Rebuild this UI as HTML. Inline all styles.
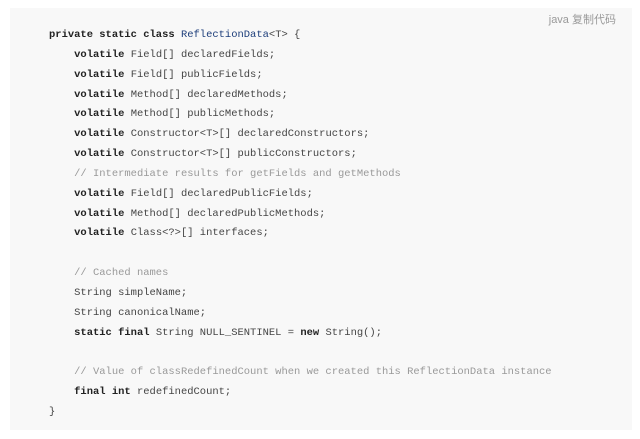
<!DOCTYPE html>
<html><head><meta charset="utf-8"><style>
html,body{margin:0;padding:0;background:#fff;width:640px;height:439px;overflow:hidden}
.box{position:absolute;left:10px;top:8px;width:622px;height:422px;background:#f8f8f8}
.lang{position:absolute;right:16px;top:3px;font:11px "Liberation Sans","Noto Sans CJK SC",sans-serif;color:#999}
pre{position:absolute;left:39px;top:18px;margin:0;font-family:"Liberation Mono",monospace;font-size:10.47px;line-height:19.85px;color:#444}
b{color:#222}
.t{color:#1c3d7a}
.c{color:#999}
</style></head><body>
<div class="box"><div class="lang">java 复制代码</div>
<pre><b>private static class</b> <span class="t">ReflectionData</span>&lt;T&gt; {
    <b>volatile</b> Field[] declaredFields;
    <b>volatile</b> Field[] publicFields;
    <b>volatile</b> Method[] declaredMethods;
    <b>volatile</b> Method[] publicMethods;
    <b>volatile</b> Constructor&lt;T&gt;[] declaredConstructors;
    <b>volatile</b> Constructor&lt;T&gt;[] publicConstructors;
    <span class="c">// Intermediate results for getFields and getMethods</span>
    <b>volatile</b> Field[] declaredPublicFields;
    <b>volatile</b> Method[] declaredPublicMethods;
    <b>volatile</b> Class&lt;?&gt;[] interfaces;

    <span class="c">// Cached names</span>
    String simpleName;
    String canonicalName;
    <b>static final</b> String NULL_SENTINEL = <b>new</b> String();

    <span class="c">// Value of classRedefinedCount when we created this ReflectionData instance</span>
    <b>final int</b> redefinedCount;
}</pre></div>
</body></html>
